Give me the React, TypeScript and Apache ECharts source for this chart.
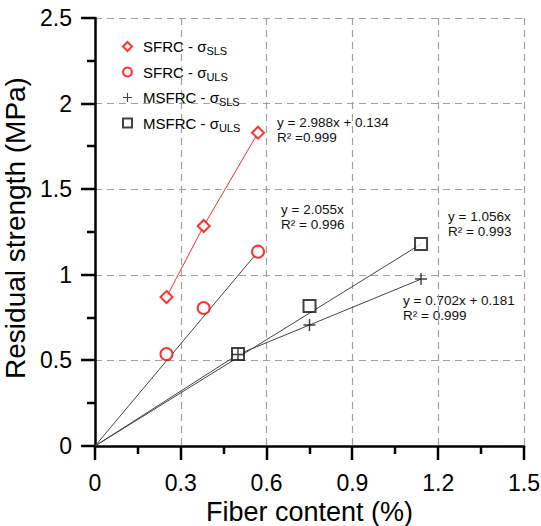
import React, { useEffect, useRef } from "react";
import * as echarts from "echarts";

const sfrcX = [0.25, 0.38, 0.57];
const sfrcSls = [0.87, 1.285, 1.83];
const sfrcUls = [0.537, 0.806, 1.135];
const msfrcX = [0.5, 0.75, 1.14];
const msfrcSls = [0.535, 0.707, 0.975];
const msfrcUls = [0.537, 0.818, 1.18];

const sfrcUlsFit = [[0, 0], [0.57, 1.135]];
const msfrcSlsFit = [[0, 0], [0.5, 0.535], [1.14, 0.975]];
const msfrcUlsFit = [[0, 0], [1.14, 1.18]];

const xMajorTicks = [0, 0.3, 0.6, 0.9, 1.2, 1.5];
const xMinorTicks = [0.15, 0.45, 0.75, 1.05, 1.35];
const yMajorTicks = [0, 0.5, 1, 1.5, 2, 2.5];
const yMinorTicks = [0.25, 0.75, 1.25, 1.75, 2.25];

const seriesNames = ["SFRC - σSLS", "SFRC - σULS", "MSFRC - σSLS", "MSFRC - σULS"];
const legendLabels: Record<string, string> = {
  "SFRC - σSLS": "{n|SFRC - σ}{s|SLS}",
  "SFRC - σULS": "{n|SFRC - σ}{s|ULS}",
  "MSFRC - σSLS": "{n|MSFRC - σ}{s|SLS}",
  "MSFRC - σULS": "{n|MSFRC - σ}{s|ULS}",
};

const annotations = [
  { x: 277, y: 123, lines: ["y = 2.988x + 0.134", "R² =0.999"] },
  { x: 281, y: 210, lines: ["y = 2.055x", "R² = 0.996"] },
  { x: 448, y: 217, lines: ["y = 1.056x", "R² = 0.993"] },
  { x: 403, y: 301, lines: ["y = 0.702x + 0.181", "R² = 0.999"] },
];

const FONT = "'Liberation Sans', Arial, sans-serif";
const PLUS = "path://M4.4,0H5.6V4.4H10V5.6H5.6V10H4.4V5.6H0V4.4H4.4Z";
const MAJOR_LEN = 14;
const MINOR_LEN = 8;

const zip = (xs: number[], ys: number[]) => xs.map((x, i) => [x, ys[i]]);

export default function App() {
  const ref = useRef<HTMLDivElement>(null);
  useEffect(() => {
    if (!ref.current) return;
    const chart = echarts.init(ref.current, undefined, { renderer: "svg" });
    const graphics: any[] = [];
    annotations.forEach((a) => {
      a.lines.forEach((t, i) => {
        graphics.push({
          type: "text",
          left: a.x,
          top: a.y - 8 + i * 15.5,
          style: { text: t, fontSize: 13.5, fontFamily: FONT, fill: "#111" },
        });
      });
    });
    const xTickData = [
      ...xMajorTicks.map((v) => [v, 0, 1]),
      ...xMinorTicks.map((v) => [v, 0, 0]),
    ];
    const yTickData = [
      ...yMajorTicks.map((v) => [0, v, 1]),
      ...yMinorTicks.map((v) => [0, v, 0]),
    ];
    const tickSeries = (data: number[][], horizontal: boolean) => ({
      type: "custom",
      name: horizontal ? "_xticks" : "_yticks",
      data,
      clip: false,
      silent: true,
      z: 10,
      itemStyle: { opacity: 1 },
      renderItem: (params: any, api: any) => {
        const p = api.coord([api.value(0), api.value(1)]);
        const len = api.value(2) ? MAJOR_LEN : MINOR_LEN;
        const px = Math.round(p[0]);
        const py = Math.round(p[1]);
        const shape = horizontal
          ? { x1: px, y1: py, x2: px, y2: py + len }
          : { x1: px, y1: py, x2: px - len, y2: py };
        return { type: "line", shape, style: { stroke: "#000", lineWidth: 2.5, opacity: 1 } };
      },
    });
    chart.setOption({
      animation: false,
      backgroundColor: "#fff",
      grid: { left: 95, right: 17, top: 18, bottom: 80, outerBoundsMode: "none", containLabel: false },
      xAxis: {
        type: "value",
        min: 0,
        max: 1.5,
        interval: 0.3,
        name: "Fiber content (%)",
        nameLocation: "middle",
        nameGap: 47,
        nameTextStyle: { fontSize: 27, fontFamily: FONT, color: "#000" },
        axisLabel: { fontSize: 23, fontFamily: FONT, color: "#000", margin: 25 },
        axisLine: { show: true, onZero: false, lineStyle: { color: "#000", width: 2.5 } },
        axisTick: { show: false },
        splitLine: { show: true, lineStyle: { color: "#a0a0a0", width: 1.2, type: [7, 5] } },
      },
      yAxis: {
        type: "value",
        min: 0,
        max: 2.5,
        interval: 0.5,
        name: "Residual strength (MPa)",
        nameLocation: "middle",
        nameGap: 60,
        nameTextStyle: { fontSize: 28, fontFamily: FONT, color: "#000", padding: [0, 0, 0, 8] },
        axisLabel: { fontSize: 23, fontFamily: FONT, color: "#000", margin: 23 },
        axisLine: { show: true, onZero: false, lineStyle: { color: "#000", width: 2.5 } },
        axisTick: { show: false },
        splitLine: { show: true, lineStyle: { color: "#a0a0a0", width: 1.2, type: [7, 5] } },
      },
      legend: {
        data: seriesNames,
        orient: "vertical",
        left: 122,
        top: 39,
        padding: 0,
        itemWidth: 9,
        itemHeight: 9,
        itemGap: 8,
        formatter: (name: string) => legendLabels[name],
        textStyle: {
          fontFamily: FONT,
          color: "#000",
          rich: {
            n: { fontSize: 15, fontFamily: FONT, color: "#000", lineHeight: 20, padding: [0, 0, 0, 6] },
            s: { fontSize: 11, fontFamily: FONT, color: "#000", lineHeight: 12, verticalAlign: "bottom" },
          },
        },
      },
      graphic: graphics,
      series: [
        { type: "line", name: "_l1", data: zip(sfrcX, sfrcSls), symbol: "none", lineStyle: { color: "#ff3030", width: 1 }, z: 1 },
        { type: "line", name: "_l2", data: sfrcUlsFit, symbol: "none", lineStyle: { color: "#444", width: 1 }, z: 1 },
        { type: "line", name: "_l3", data: msfrcSlsFit, symbol: "none", lineStyle: { color: "#444", width: 1 }, z: 1 },
        { type: "line", name: "_l4", data: msfrcUlsFit, symbol: "none", lineStyle: { color: "#444", width: 1 }, z: 1 },
        {
          type: "scatter",
          name: seriesNames[0],
          data: zip(sfrcX, sfrcSls),
          symbol: "emptyDiamond",
          symbolSize: 12,
          itemStyle: { color: "#ff0000", borderColor: "#ff0000", borderWidth: 1.2 },
          z: 3,
        },
        {
          type: "scatter",
          name: seriesNames[1],
          data: zip(sfrcX, sfrcUls),
          symbol: "emptyCircle",
          symbolSize: 12,
          itemStyle: { color: "#ff0000", borderColor: "#ff0000", borderWidth: 1.8 },
          z: 3,
        },
        {
          type: "scatter",
          name: seriesNames[2],
          data: zip(msfrcX, msfrcSls),
          symbol: PLUS,
          symbolSize: 12,
          itemStyle: { color: "#111" },
          z: 4,
        },
        {
          type: "scatter",
          name: seriesNames[3],
          data: zip(msfrcX, msfrcUls),
          symbol: "emptyRect",
          symbolSize: 12,
          itemStyle: { color: "#111", borderColor: "#111", borderWidth: 1.6 },
          z: 3,
        },
        tickSeries(xTickData, true),
        tickSeries(yTickData, false),
      ],
    });
    return () => chart.dispose();
  }, []);
  return (
    <div
      ref={ref}
      style={{ position: "absolute", left: 0, top: 0, width: 541, height: 526, background: "#fff" }}
    />
  );
}
